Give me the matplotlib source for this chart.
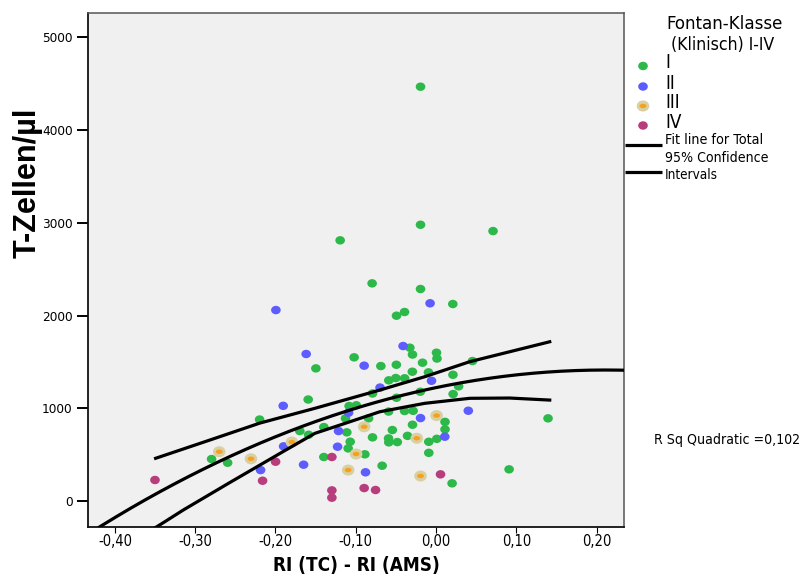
import numpy as np
import matplotlib
matplotlib.use("Agg")
import matplotlib.pyplot as plt
from matplotlib import font_manager
from matplotlib.font_manager import FontProperties
from matplotlib.path import Path
from matplotlib.transforms import Affine2D
from matplotlib.ticker import FuncFormatter

# ----------------------------------------------------------------------
# Daten: RI (TC) - RI (AMS) gegen T-Zellen/µl, je Fontan-Klasse
# ----------------------------------------------------------------------
ri_I = [-0.0194, -0.0194, 0.0709, -0.1195, -0.0797, -0.0194, 0.0208, -0.0393,
        -0.0493, -0.1497, -0.1021, -0.0688, -0.0495, -0.0589, -0.0502, -0.0792,
        -0.1593, -0.2198, -0.1083, -0.0993, -0.1128, -0.0841, -0.1697, -0.1588,
        -0.1398, -0.1112, -0.1070, -0.1095, -0.0792, -0.0592, -0.0545, -0.0592,
        -0.0589, -0.0483, -0.2796, -0.2596, -0.1398, -0.0887, -0.0672, -0.0327,
        -0.0294, 0.0005, 0.0011, -0.0169, -0.0296, -0.0095, -0.0392, 0.0453,
        0.0210, 0.0280, 0.0212, -0.0197, -0.0493, -0.0392, -0.0286, 0.0111,
        0.0111, -0.0294, -0.0356, -0.0091, 0.0009, -0.0091, 0.0199, 0.0909,
        0.1394]
tz_I = [4469, 2980, 2912, 2812, 2348, 2287, 2125, 2039,
        1999, 1431, 1550, 1456, 1470, 1302, 1327, 1160,
        1095, 879, 1025, 1033, 892, 892, 755, 715,
        798, 741, 640, 568, 687, 965, 766, 676,
        633, 636, 453, 413, 475, 504, 381, 1654,
        1580, 1600, 1537, 1492, 1395, 1388, 1324, 1510,
        1362, 1237, 1154, 1179, 1114, 971, 973, 854,
        773, 823, 703, 639, 671, 520, 191, 342,
        892]

ri_II = [-0.1995, -0.0075, -0.1618, -0.0896, -0.1904, -0.1899, -0.2186, -0.1650,
         -0.1227, -0.1215, -0.1090, -0.0879, -0.0698, -0.0411, -0.0057, -0.0194,
         0.0401, 0.0108]
tz_II = [2060, 2133, 1586, 1460, 1027, 590, 334, 392,
         586, 755, 953, 310, 1224, 1672, 1297, 895,
         974, 694]

ri_III = [-0.2701, -0.2306, -0.1796, -0.0896, -0.0996, -0.1095, 0.0006, -0.0240,
          -0.0194]
tz_III = [532, 456, 636, 801, 507, 334, 922, 677,
          270]

ri_IV = [-0.3501, -0.1999, -0.2161, -0.1298, -0.1298, -0.1298, -0.0896, -0.0754,
         0.0055]
tz_IV = [227, 424, 219, 475, 115, 36, 140, 119,
         288]

# 95%-Konfidenzgrenzen (Mittelwert) aus der SPSS-Ausgabe
ci_hi_x = [-0.3493, -0.2817, -0.2194, -0.1510, -0.0701, -0.0141, 0.0419, 0.1415]
ci_hi_y = [461, 658, 841, 1000, 1197, 1341, 1503, 1718]
ci_lo_x = [-0.3493, -0.3398, -0.3149, -0.2568, -0.1904, -0.1510, -0.1074, -0.0701,
           -0.0141, 0.0419, 0.0917, 0.1415]
ci_lo_y = [-285, -234, -97, 200, 534, 730, 855, 963,
           1054, 1108, 1111, 1089]

klassen = ["I", "II", "III", "IV"]
r_sq_text = "R Sq Quadratic =0,102"

# ----------------------------------------------------------------------
# Schriften: schmale Sans-Schrift suchen, sonst Liberation Sans
# ----------------------------------------------------------------------
def schmale_schrift(fett):
    kandidaten = []
    for f in font_manager.fontManager.ttflist:
        name = f.name.lower()
        if "serif" in name.replace("sans", "") or "mono" in name:
            continue
        schmal = ("narrow" in name or "condensed" in name
                  or str(f.stretch).lower() in ("condensed", "semi-condensed", "extra-condensed"))
        if not schmal or f.style != "normal":
            continue
        w = f.weight if isinstance(f.weight, int) else font_manager.weight_dict.get(f.weight, 400)
        if (w >= 600) != fett:
            continue
        rang = 0 if "liberation" in name else (1 if "dejavu" in name else 2)
        kandidaten.append((rang, f.fname))
    return sorted(kandidaten)[0][1] if kandidaten else None


SCHMAL = schmale_schrift(False)
SCHMAL_FETT = schmale_schrift(True)

W, H = 804, 587
fig = plt.figure(figsize=(W / 100, H / 100), dpi=100)
renderer = fig.canvas.get_renderer()


def basis(fett=False, size=10):
    datei = SCHMAL_FETT if fett else SCHMAL
    if datei:
        return FontProperties(fname=datei, size=size)
    return FontProperties(family="Liberation Sans", size=size, weight="bold" if fett else "normal")


def fp_breite(text, ziel_px, fett=False, prop=None):
    """Schriftgröße so wählen, dass `text` ziel_px Pixel breit wird."""
    prop = prop or basis(fett)
    w, _, _ = renderer.get_text_width_height_descent(text, prop, ismath=False)
    prop = prop.copy()
    prop.set_size(prop.get_size() * ziel_px / w)
    return prop


GRUEN = "#2db84a"
BLAU = "#5c5cff"
ORANGE = "#f7a020"
HALO = "#d9d0a2"
LILA = "#b83d7d"


def ellipse(ratio):
    """Kreis-Marker, leicht in die Breite gezogen."""
    return Path.unit_circle().transformed(Affine2D().scale(1.0, ratio))


PUNKT = ellipse(0.88)
KERN = ellipse(0.65)

# ----------------------------------------------------------------------
# Quadratische Anpassung über alle Patienten
# ----------------------------------------------------------------------
x_all = np.array(ri_I + ri_II + ri_III + ri_IV)
y_all = np.array(tz_I + tz_II + tz_III + tz_IV, dtype=float)
koeff = np.polyfit(x_all, y_all, 2)

XMIN, XMAX = -0.4335, 0.234
YMIN, YMAX = -280, 5264

x_fit = np.linspace(XMIN, XMAX, 300)
y_fit = np.polyval(koeff, x_fit)

# ----------------------------------------------------------------------
# Streudiagramm
# ----------------------------------------------------------------------
ax = fig.add_axes([88 / W, 1 - 527 / H, (624 - 88) / W, (527 - 13) / H])
ax.set_facecolor("#f0f0f0")

ax.scatter(ri_I, tz_I, s=48, marker=PUNKT, c=GRUEN, edgecolors="none", zorder=3)
ax.scatter(ri_II, tz_II, s=48, marker=PUNKT, c=BLAU, edgecolors="none", zorder=3)
ax.scatter(ri_III, tz_III, s=82, marker=PUNKT, c=HALO, edgecolors="none", zorder=3)
ax.scatter(ri_III, tz_III, s=24, marker=KERN, c=ORANGE, edgecolors="none", zorder=3)
ax.scatter(ri_IV, tz_IV, s=48, marker=PUNKT, c=LILA, edgecolors="none", zorder=3)

ax.plot(x_fit, y_fit, color="black", lw=2.3, zorder=4)
ax.plot(ci_lo_x, ci_lo_y, color="black", lw=2.3, zorder=4, solid_joinstyle="round")
ax.plot(ci_hi_x, ci_hi_y, color="black", lw=2.3, zorder=4, solid_joinstyle="round")

ax.set_xlim(XMIN, XMAX)
ax.set_ylim(YMIN, YMAX)
ax.set_xticks([-0.4, -0.3, -0.2, -0.1, 0.0, 0.1, 0.2])
ax.set_yticks([0, 1000, 2000, 3000, 4000, 5000])
ax.xaxis.set_major_formatter(FuncFormatter(lambda v, p: f"{v:.2f}".replace(".", ",").replace("-0,00", "0,00")))
ax.yaxis.set_major_formatter(FuncFormatter(lambda v, p: f"{v:.0f}"))

ax.tick_params(axis="y", length=8, width=1.4, pad=3, direction="out")
ax.tick_params(axis="x", length=4, width=0.8, pad=1, direction="out")
x_tick_fp = fp_breite("-0,40", 34)
y_tick_fp = fp_breite("5000", 31)
for lab in ax.get_xticklabels():
    lab.set_fontproperties(x_tick_fp)
for lab in ax.get_yticklabels():
    lab.set_fontproperties(y_tick_fp)

for side in ("left", "bottom"):
    ax.spines[side].set_color("#111111")
    ax.spines[side].set_linewidth(1.3)
for side in ("top", "right"):
    ax.spines[side].set_color("#555555")
    ax.spines[side].set_linewidth(1.1)

# Achsentitel
fig.text(356 / W, 1 - 565 / H, "RI (TC) - RI (AMS)",
         fontproperties=fp_breite("RI (TC) - RI (AMS)", 166, fett=True),
         ha="center", va="center")
y_titel_fp = fp_breite("T-Zellen/µl", 150, prop=FontProperties(family="Liberation Sans", weight="bold", size=10))
fig.text(28 / W, 1 - 183 / H, "T-Zellen/µl", fontproperties=y_titel_fp,
         rotation=90, ha="center", va="center")

# ----------------------------------------------------------------------
# Legende rechts (Pixelkoordinaten der Figur)
# ----------------------------------------------------------------------
lax = fig.add_axes([0, 0, 1, 1])
lax.set_xlim(0, W)
lax.set_ylim(H, 0)
lax.axis("off")

lax.text(725, 24, "Fontan-Klasse", fontproperties=fp_breite("Fontan-Klasse", 116), ha="center", va="center")
lax.text(723, 45, "(Klinisch) I-IV", fontproperties=fp_breite("(Klinisch) I-IV", 104), ha="center", va="center")

klassen_fp = basis(size=13.5)
farben = [GRUEN, BLAU, ORANGE, LILA]
marker_y = [66, 86.5, 106, 125.5]
for name, farbe, my in zip(klassen, farben, marker_y):
    if farbe == ORANGE:
        lax.scatter([643], [my], s=82, marker=PUNKT, c=HALO, edgecolors="none")
        lax.scatter([643], [my], s=24, marker=KERN, c=ORANGE, edgecolors="none")
    else:
        lax.scatter([643], [my], s=48, marker=PUNKT, c=farbe, edgecolors="none")
    lax.text(665, my - 3, name, fontproperties=klassen_fp, ha="left", va="center")

lax.plot([625, 662], [145, 145], color="black", lw=2.3, solid_capstyle="butt")
lax.text(665, 140, "Fit line for Total", fontproperties=fp_breite("Fit line for Total", 98),
         ha="left", va="center")
lax.plot([625, 662], [171.5, 171.5], color="black", lw=2.3, solid_capstyle="butt")
lax.text(665, 158, "95% Confidence", fontproperties=fp_breite("95% Confidence", 103), ha="left", va="center")
lax.text(665, 175, "Intervals", fontproperties=fp_breite("Intervals", 53), ha="left", va="center")

lax.text(654, 440, r_sq_text, fontproperties=fp_breite(r_sq_text, 146), ha="left", va="center")

fig.savefig("out.png", dpi=100)
